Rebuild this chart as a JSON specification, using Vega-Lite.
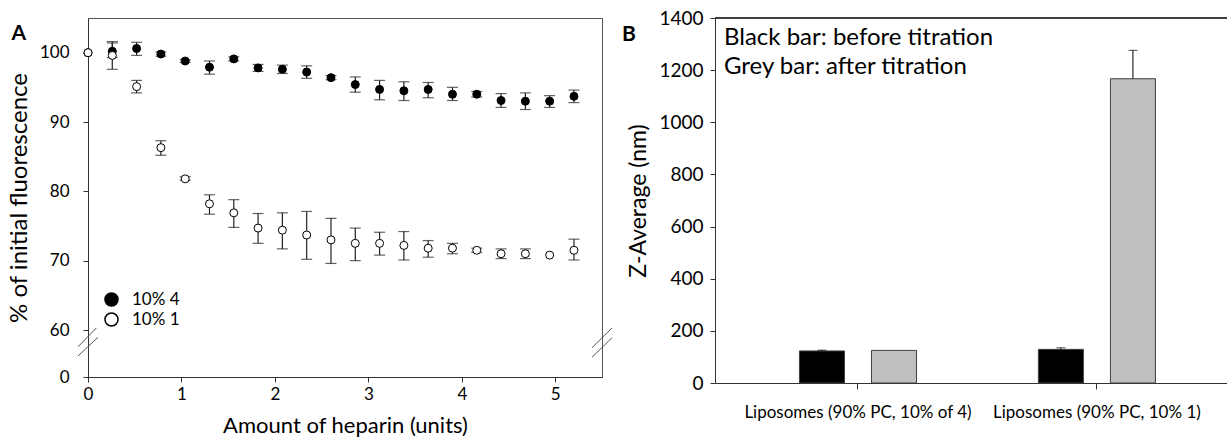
{
  "$schema": "https://vega.github.io/schema/vega-lite/v6.json",
  "padding": {"left": 6, "top": 9, "right": 0, "bottom": 0},
  "background": "white",
  "spacing": 8,
  "config": {
    "font": "Lato",
    "view": {"stroke": null},
    "axis": {"grid": false, "domainColor": "#333", "tickColor": "#333", "labelColor": "black", "titleColor": "black", "titleFontWeight": "normal", "labelFont": "Lato", "titleFont": "Lato"},
    "legend": {"labelFont": "Lato", "labelColor": "black"},
    "title": {"font": "Lato", "color": "black"}
  },
  "datasets": {
    "fluor": [
      {"series": "10% 4", "heparin": 0, "pct": 100, "lo": 100, "hi": 100},
      {"series": "10% 4", "heparin": 0.26, "pct": 100.2, "lo": 99.3, "hi": 101.4},
      {"series": "10% 4", "heparin": 0.52, "pct": 100.6, "lo": 99.6, "hi": 101.5},
      {"series": "10% 4", "heparin": 0.78, "pct": 99.8, "lo": 99.5, "hi": 100.1},
      {"series": "10% 4", "heparin": 1.04, "pct": 98.8, "lo": 98.6, "hi": 99.0},
      {"series": "10% 4", "heparin": 1.30, "pct": 97.9, "lo": 96.9, "hi": 98.8},
      {"series": "10% 4", "heparin": 1.56, "pct": 99.1, "lo": 98.8, "hi": 99.4},
      {"series": "10% 4", "heparin": 1.82, "pct": 97.8, "lo": 97.3, "hi": 98.3},
      {"series": "10% 4", "heparin": 2.08, "pct": 97.6, "lo": 97.0, "hi": 98.2},
      {"series": "10% 4", "heparin": 2.34, "pct": 97.2, "lo": 96.3, "hi": 98.1},
      {"series": "10% 4", "heparin": 2.60, "pct": 96.4, "lo": 96.1, "hi": 96.7},
      {"series": "10% 4", "heparin": 2.86, "pct": 95.4, "lo": 94.3, "hi": 96.5},
      {"series": "10% 4", "heparin": 3.12, "pct": 94.7, "lo": 93.2, "hi": 96.0},
      {"series": "10% 4", "heparin": 3.38, "pct": 94.5, "lo": 93.1, "hi": 95.8},
      {"series": "10% 4", "heparin": 3.64, "pct": 94.7, "lo": 93.5, "hi": 95.7},
      {"series": "10% 4", "heparin": 3.90, "pct": 94.0, "lo": 93.1, "hi": 95.0},
      {"series": "10% 4", "heparin": 4.16, "pct": 94.0, "lo": 93.6, "hi": 94.4},
      {"series": "10% 4", "heparin": 4.42, "pct": 93.1, "lo": 92.1, "hi": 94.1},
      {"series": "10% 4", "heparin": 4.68, "pct": 93.0, "lo": 91.8, "hi": 94.2},
      {"series": "10% 4", "heparin": 4.94, "pct": 93.0, "lo": 92.1, "hi": 93.8},
      {"series": "10% 4", "heparin": 5.20, "pct": 93.7, "lo": 92.8, "hi": 94.6},
      {"series": "10% 1", "heparin": 0, "pct": 100, "lo": 100, "hi": 100},
      {"series": "10% 1", "heparin": 0.26, "pct": 99.6, "lo": 97.6, "hi": 101.6},
      {"series": "10% 1", "heparin": 0.52, "pct": 95.1, "lo": 94.2, "hi": 96.0},
      {"series": "10% 1", "heparin": 0.78, "pct": 86.3, "lo": 85.2, "hi": 87.3},
      {"series": "10% 1", "heparin": 1.04, "pct": 81.8, "lo": 81.6, "hi": 82.1},
      {"series": "10% 1", "heparin": 1.30, "pct": 78.2, "lo": 76.7, "hi": 79.5},
      {"series": "10% 1", "heparin": 1.56, "pct": 76.9, "lo": 74.8, "hi": 78.8},
      {"series": "10% 1", "heparin": 1.82, "pct": 74.7, "lo": 72.5, "hi": 76.8},
      {"series": "10% 1", "heparin": 2.08, "pct": 74.4, "lo": 71.7, "hi": 76.9},
      {"series": "10% 1", "heparin": 2.34, "pct": 73.7, "lo": 70.2, "hi": 77.1},
      {"series": "10% 1", "heparin": 2.60, "pct": 73.0, "lo": 69.6, "hi": 76.1},
      {"series": "10% 1", "heparin": 2.86, "pct": 72.5, "lo": 70.0, "hi": 74.7},
      {"series": "10% 1", "heparin": 3.12, "pct": 72.5, "lo": 70.8, "hi": 74.1},
      {"series": "10% 1", "heparin": 3.38, "pct": 72.2, "lo": 70.1, "hi": 74.2},
      {"series": "10% 1", "heparin": 3.64, "pct": 71.8, "lo": 70.5, "hi": 72.9},
      {"series": "10% 1", "heparin": 3.90, "pct": 71.8, "lo": 71.0, "hi": 72.5},
      {"series": "10% 1", "heparin": 4.16, "pct": 71.5, "lo": 71.2, "hi": 71.8},
      {"series": "10% 1", "heparin": 4.42, "pct": 71.0, "lo": 70.3, "hi": 71.7},
      {"series": "10% 1", "heparin": 4.68, "pct": 71.0, "lo": 70.3, "hi": 71.7},
      {"series": "10% 1", "heparin": 4.94, "pct": 70.8, "lo": 70.8, "hi": 70.8},
      {"series": "10% 1", "heparin": 5.20, "pct": 71.5, "lo": 70.1, "hi": 73.1}
    ],
    "breaks": [
      {"x1": -0.105, "y1": 38.7, "x2": 0.09, "y2": 60.3},
      {"x1": -0.107, "y1": 26.8, "x2": 0.107, "y2": 50.7},
      {"x1": 5.393, "y1": 37.4, "x2": 5.607, "y2": 60.3},
      {"x1": 5.393, "y1": 25.1, "x2": 5.607, "y2": 50.2}
    ],
    "dls": [
      {"sample": "Liposomes (90% PC, 10% of 4)", "phase": "Black bar: before titration", "z": 123, "hi": 126},
      {"sample": "Liposomes (90% PC, 10% of 4)", "phase": "Grey bar: after titration", "z": 125, "hi": 125},
      {"sample": "Liposomes (90% PC, 10% 1)", "phase": "Black bar: before titration", "z": 129, "hi": 135},
      {"sample": "Liposomes (90% PC, 10% 1)", "phase": "Grey bar: after titration", "z": 1167, "hi": 1276}
    ]
  },
  "hconcat": [
    {
      "width": 514,
      "height": 359,
      "view": {"stroke": "#555", "strokeWidth": 1},
      "title": {"text": "A", "anchor": "start", "frame": "bounds", "fontSize": 21, "fontWeight": "bold", "dx": 4, "dy": 30},
      "layer": [
        {
          "data": {"name": "fluor"},
          "transform": [{"filter": "datum.hi > datum.lo"}],
          "mark": {"type": "errorbar", "color": "#222", "ticks": {"size": 11, "thickness": 1.2, "color": "#222"}, "rule": {"strokeWidth": 1.2, "color": "#222"}},
          "encoding": {
            "x": {"field": "heparin", "type": "quantitative", "scale": {"domain": [0, 5.5], "nice": false, "zero": false}, "title": "Amount of heparin (units)"},
            "y": {"field": "lo", "type": "quantitative", "scale": {"domain": [0, 60, 105], "range": [359, 312, 0], "nice": false, "zero": false}, "title": "% of initial fluorescence"},
            "y2": {"field": "hi"},
            "detail": {"field": "series"}
          }
        },
        {
          "data": {"name": "fluor"},
          "mark": {"type": "point", "filled": true, "size": 64, "stroke": "black", "strokeWidth": 1, "opacity": 1},
          "encoding": {
            "x": {
              "field": "heparin", "type": "quantitative",
              "scale": {"domain": [0, 5.5], "nice": false, "zero": false},
              "axis": {"values": [0, 1, 2, 3, 4, 5], "format": "d", "title": "Amount of heparin (units)", "titleFontSize": 22, "labelFontSize": 17, "tickSize": 5, "labelPadding": 4, "titlePadding": 13, "labelFlush": false}
            },
            "y": {
              "field": "pct", "type": "quantitative",
              "scale": {"domain": [0, 60, 105], "range": [359, 312, 0], "nice": false, "zero": false},
              "axis": {"values": [0, 60, 70, 80, 90, 100], "format": "d", "title": "% of initial fluorescence", "titleFontSize": 24, "labelFontSize": 17, "tickSize": 5, "labelPadding": 14, "titlePadding": 8, "labelFlush": false}
            },
            "fill": {
              "field": "series", "type": "nominal",
              "scale": {"domain": ["10% 4", "10% 1"], "range": ["black", "white"]},
              "legend": {"orient": "none", "legendX": 15, "legendY": 273, "title": null, "labelFontSize": 17, "symbolSize": 170, "symbolType": "circle", "symbolStrokeColor": "black", "symbolStrokeWidth": 1.5, "padding": 0, "rowPadding": -1, "labelOffset": 12}
            }
          }
        },
        {
          "data": {"name": "breaks"},
          "mark": {"type": "rule", "clip": false, "color": "#555", "strokeWidth": 1},
          "encoding": {
            "x": {"field": "x1", "type": "quantitative"},
            "x2": {"field": "x2"},
            "y": {"field": "y1", "type": "quantitative"},
            "y2": {"field": "y2"}
          }
        }
      ]
    },
    {
      "width": 512,
      "height": 365,
      "data": {"name": "dls"},
      "title": {"text": "B", "anchor": "start", "frame": "bounds", "fontSize": 21, "fontWeight": "bold", "dx": -6, "dy": 40},
      "layer": [
        {
          "mark": {"type": "rule", "color": "#333", "strokeWidth": 1},
          "encoding": {"y": {"datum": 1400, "type": "quantitative"}}
        },
        {
          "mark": {"type": "bar", "stroke": "#404040", "strokeWidth": 1},
          "encoding": {
            "x": {
              "field": "sample", "type": "nominal",
              "scale": {"domain": ["Liposomes (90% PC, 10% of 4)", "Liposomes (90% PC, 10% 1)"], "paddingInner": 0.397, "paddingOuter": 0.27, "align": 0.55},
              "axis": {"title": null, "labelAngle": 0, "labelFontSize": 17, "labelPadding": 15, "tickSize": 6, "labelLimit": 400}
            },
            "xOffset": {
              "field": "phase", "type": "nominal",
              "scale": {"domain": ["Black bar: before titration", "Grey bar: after titration"], "paddingInner": 0.375, "paddingOuter": 0.1875}
            },
            "y": {
              "field": "z", "type": "quantitative",
              "scale": {"domain": [0, 1400], "nice": false},
              "axis": {"values": [0, 200, 400, 600, 800, 1000, 1200, 1400], "format": "d", "title": "Z-Average (nm)", "titleFontSize": 23, "labelFontSize": 19, "tickSize": 5, "labelPadding": 7, "titlePadding": 8, "labelFlush": false}
            },
            "color": {
              "field": "phase", "type": "nominal",
              "scale": {"domain": ["Black bar: before titration", "Grey bar: after titration"], "range": ["black", "#bfbfbf"]},
              "legend": {"orient": "none", "legendX": 612, "legendY": 8, "title": null, "labelFontSize": 24, "labelLimit": 500, "symbolSize": 0, "symbolOpacity": 0, "symbolStrokeWidth": 0, "labelOffset": 0, "padding": 0, "rowPadding": 5}
            }
          }
        },
        {
          "transform": [{"filter": "datum.hi > datum.z"}],
          "mark": {"type": "rule", "color": "black", "strokeWidth": 1},
          "encoding": {
            "x": {"field": "sample", "type": "nominal"},
            "xOffset": {"field": "phase", "type": "nominal"},
            "y": {"field": "z", "type": "quantitative"},
            "y2": {"field": "hi"}
          }
        },
        {
          "transform": [{"filter": "datum.hi > datum.z"}],
          "mark": {"type": "tick", "color": "black", "size": 9, "thickness": 1},
          "encoding": {
            "x": {"field": "sample", "type": "nominal"},
            "xOffset": {"field": "phase", "type": "nominal"},
            "y": {"field": "hi", "type": "quantitative"}
          }
        }
      ]
    }
  ]
}
